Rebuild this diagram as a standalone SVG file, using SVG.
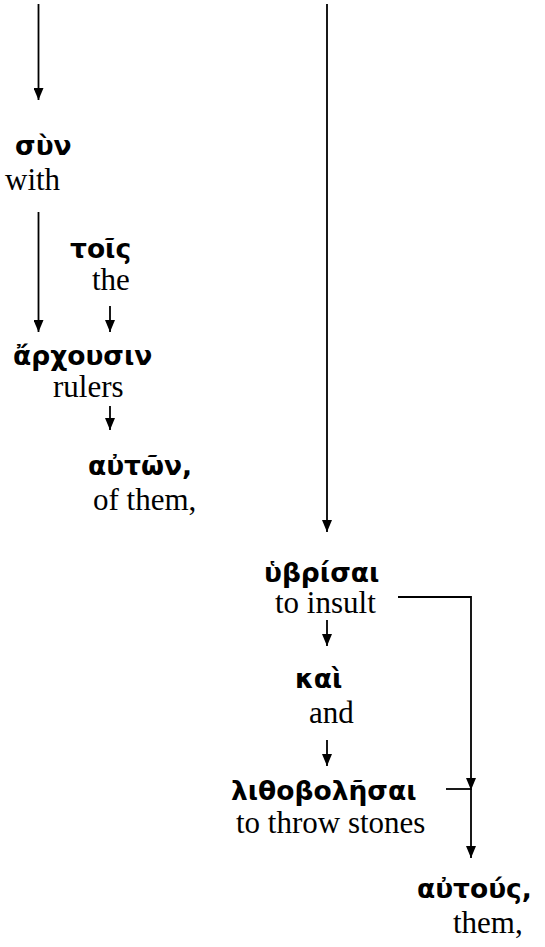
<svg xmlns="http://www.w3.org/2000/svg" width="545" height="947" viewBox="0 0 545 947">
  <style>
    .gk { font-family: "DejaVu Sans", "Noto Sans", sans-serif; font-weight: bold; font-size: 26.5px; fill: #000; }
    .en { font-family: "Liberation Serif", "Times New Roman", serif; font-size: 31px; fill: #000; }
    .ln { stroke: #000; stroke-width: 1.8; fill: none; }
  </style>
  <defs>
    <!-- solid triangular head, tip on the line end -->
    <marker id="head" viewBox="0 0 12 10" refX="12" refY="5" markerWidth="12" markerHeight="10" markerUnits="userSpaceOnUse" orient="auto">
      <path d="M0,0 L12,5 L0,10 Z" fill="#000"/>
    </marker>
  </defs>

  <rect width="545" height="947" fill="#fff"/>

  <g id="connectors">
    <line class="ln" x1="38.5" y1="4" x2="38.5" y2="100" marker-end="url(#head)"/>
    <line class="ln" x1="38.5" y1="212" x2="38.5" y2="332" marker-end="url(#head)"/>
    <line class="ln" x1="110" y1="306" x2="110" y2="332" marker-end="url(#head)"/>
    <line class="ln" x1="110" y1="406" x2="110" y2="430" marker-end="url(#head)"/>
    <line class="ln" x1="327" y1="4" x2="327" y2="532" marker-end="url(#head)"/>
    <line class="ln" x1="327" y1="620" x2="327" y2="646" marker-end="url(#head)"/>
    <line class="ln" x1="327" y1="740" x2="327" y2="766" marker-end="url(#head)"/>
    <polyline class="ln" points="398,597 471,597 471,790" marker-end="url(#head)"/>
    <line class="ln" x1="446" y1="789" x2="471" y2="789"/>
    <line class="ln" x1="471" y1="789" x2="471" y2="858" marker-end="url(#head)"/>
  </g>

  <g id="syn">
    <text class="gk" x="15" y="155">σὺν</text>
    <text class="en" x="5" y="190">with</text>
  </g>
  <g id="tois">
    <text class="gk" x="70" y="258">τοῖς</text>
    <text class="en" x="92" y="290">the</text>
  </g>
  <g id="archousin">
    <text class="gk" x="13" y="365">ἄρχουσιν</text>
    <text class="en" x="53" y="397">rulers</text>
  </g>
  <g id="auton">
    <text class="gk" x="88" y="475">αὐτῶν,</text>
    <text class="en" x="93" y="510">of them,</text>
  </g>
  <g id="hybrisai">
    <text class="gk" x="264" y="582">ὑβρίσαι</text>
    <text class="en" x="275" y="613">to insult</text>
  </g>
  <g id="kai">
    <text class="gk" x="295" y="688">καὶ</text>
    <text class="en" x="309" y="723">and</text>
  </g>
  <g id="lithobolesai">
    <text class="gk" x="231" y="800">λιθοβολῆσαι</text>
    <text class="en" x="236" y="833">to throw stones</text>
  </g>
  <g id="autous">
    <text class="gk" x="417" y="898">αὐτούς,</text>
    <text class="en" x="453" y="933">them,</text>
  </g>
</svg>
